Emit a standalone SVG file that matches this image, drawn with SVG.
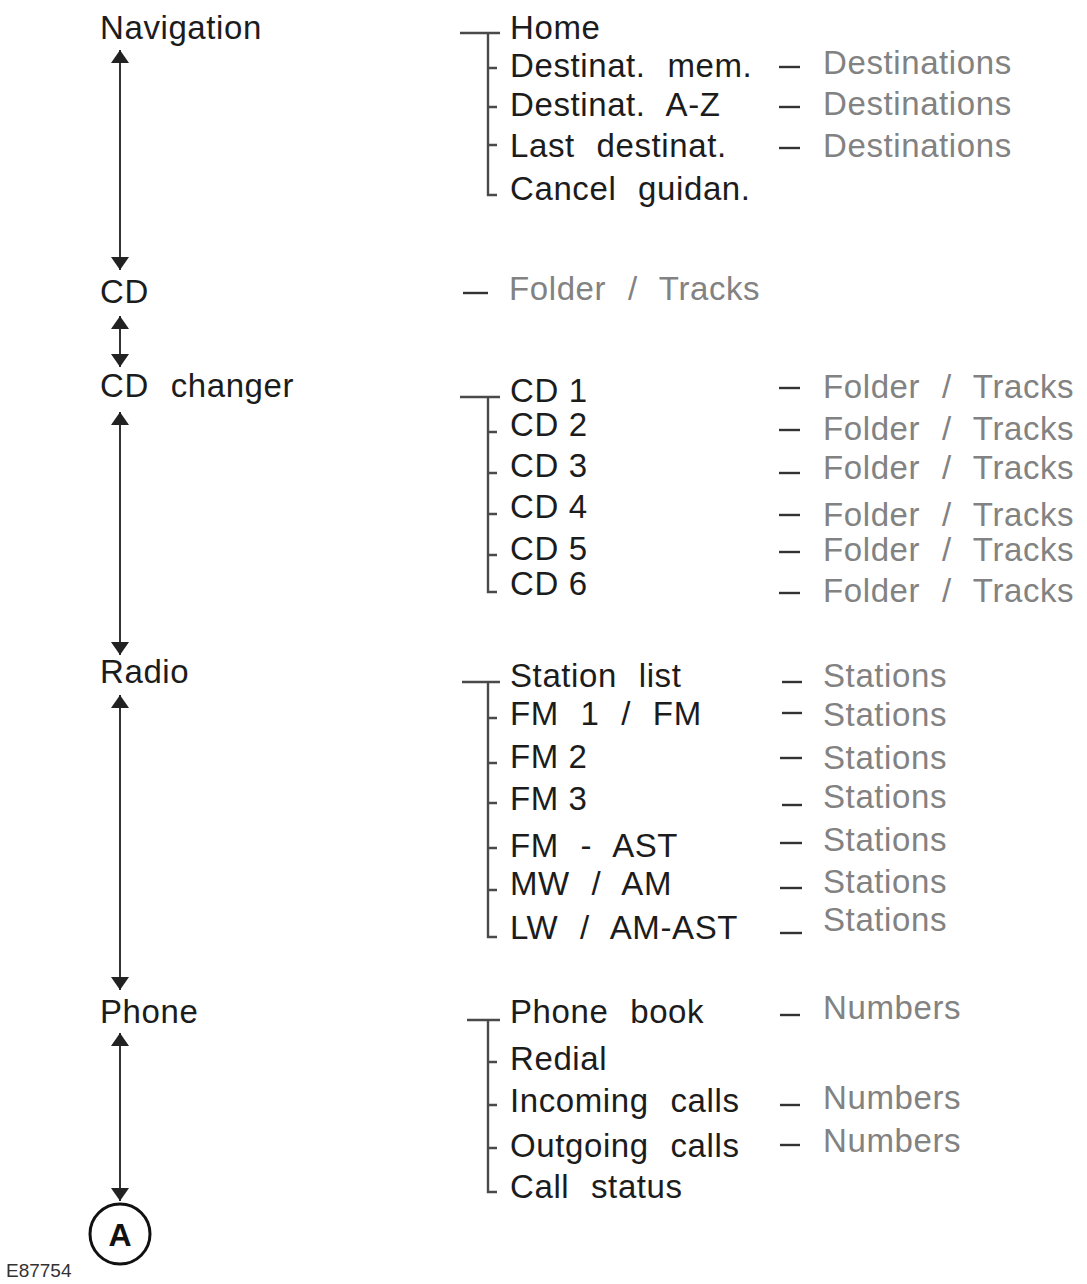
<svg xmlns="http://www.w3.org/2000/svg" width="1087" height="1284" viewBox="0 0 1087 1284">
<style>
text{font-family:"Liberation Sans",Arial,sans-serif;font-size:33px;letter-spacing:0.6px;word-spacing:12px}
.k{fill:#1c1c1c}
.g{fill:#828282}
.t{stroke:#4a4a4a;stroke-width:2.4;fill:none}
.d{stroke:#333;stroke-width:2.4}
.a{stroke:#333;stroke-width:2;fill:none;marker-start:url(#ah);marker-end:url(#ah)}
</style>
<defs>
<marker id="ah" viewBox="0 0 13 18" refX="13" refY="9" markerWidth="13" markerHeight="18" markerUnits="userSpaceOnUse" orient="auto-start-reverse">
<path d="M0,0 L13,9 L0,18 z" fill="#222"/>
</marker>
</defs>
<rect width="1087" height="1284" fill="#fff"/>

<g id="connectors">
<line class="a" x1="120" y1="50" x2="120" y2="270"/>
<line class="a" x1="120" y1="316" x2="120" y2="367"/>
<line class="a" x1="120" y1="412" x2="120" y2="655"/>
<line class="a" x1="120" y1="695" x2="120" y2="990"/>
<line class="a" x1="120" y1="1033" x2="120" y2="1201"/>
</g>

<g id="navigation">
<text class="k" x="100" y="39">Navigation</text>
<path class="t" d="M460,33 H500 M488,33 V195 H497 M488,68 H497 M488,107 H497 M488,145 H497"/>
<text class="k" x="510" y="39">Home</text>
<text class="k" x="510" y="77">Destinat. mem.</text>
<text class="k" x="510" y="116">Destinat. A-Z</text>
<text class="k" x="510" y="157">Last destinat.</text>
<text class="k" x="510" y="200">Cancel guidan.</text>
<line class="d" x1="779" y1="67" x2="800" y2="67"/>
<line class="d" x1="779" y1="107" x2="800" y2="107"/>
<line class="d" x1="779" y1="148" x2="800" y2="148"/>
<text class="g" x="823" y="74">Destinations</text>
<text class="g" x="823" y="115">Destinations</text>
<text class="g" x="823" y="157">Destinations</text>
</g>

<g id="cd">
<text class="k" x="100" y="303">CD</text>
<line class="d" x1="463" y1="293" x2="488" y2="293"/>
<text class="g" x="509" y="300">Folder / Tracks</text>
</g>

<g id="cd-changer">
<text class="k" x="100" y="397">CD changer</text>
<path class="t" d="M460,397 H500 M488,397 V592 H497 M488,432 H497 M488,473 H497 M488,514 H497 M488,555 H497"/>
<text class="k" x="510" y="402" style="word-spacing:0">CD 1</text>
<text class="k" x="510" y="436" style="word-spacing:0">CD 2</text>
<text class="k" x="510" y="477" style="word-spacing:0">CD 3</text>
<text class="k" x="510" y="518" style="word-spacing:0">CD 4</text>
<text class="k" x="510" y="560" style="word-spacing:0">CD 5</text>
<text class="k" x="510" y="595" style="word-spacing:0">CD 6</text>
<line class="d" x1="779" y1="388" x2="800" y2="388"/>
<line class="d" x1="779" y1="430" x2="800" y2="430"/>
<line class="d" x1="779" y1="473" x2="800" y2="473"/>
<line class="d" x1="779" y1="515" x2="800" y2="515"/>
<line class="d" x1="779" y1="552" x2="800" y2="552"/>
<line class="d" x1="779" y1="593" x2="800" y2="593"/>
<text class="g" x="823" y="398">Folder / Tracks</text>
<text class="g" x="823" y="440">Folder / Tracks</text>
<text class="g" x="823" y="479">Folder / Tracks</text>
<text class="g" x="823" y="526">Folder / Tracks</text>
<text class="g" x="823" y="561">Folder / Tracks</text>
<text class="g" x="823" y="602">Folder / Tracks</text>
</g>

<g id="radio">
<text class="k" x="100" y="683">Radio</text>
<path class="t" d="M462,682 H500 M488,682 V937 H497 M488,718 H497 M488,763 H497 M488,803 H497 M488,848 H497 M488,890 H497"/>
<text class="k" x="510" y="687">Station list</text>
<text class="k" x="510" y="725">FM 1 / FM</text>
<text class="k" x="510" y="768" style="word-spacing:0">FM 2</text>
<text class="k" x="510" y="810" style="word-spacing:0">FM 3</text>
<text class="k" x="510" y="857">FM - AST</text>
<text class="k" x="510" y="895">MW / AM</text>
<text class="k" x="510" y="939">LW / AM-AST</text>
<line class="d" x1="782" y1="682" x2="802" y2="682"/>
<line class="d" x1="782" y1="713" x2="802" y2="713"/>
<line class="d" x1="780" y1="758" x2="802" y2="758"/>
<line class="d" x1="782" y1="805" x2="802" y2="805"/>
<line class="d" x1="780" y1="843" x2="802" y2="843"/>
<line class="d" x1="780" y1="888" x2="802" y2="888"/>
<line class="d" x1="780" y1="933" x2="802" y2="933"/>
<text class="g" x="823" y="687">Stations</text>
<text class="g" x="823" y="726">Stations</text>
<text class="g" x="823" y="769">Stations</text>
<text class="g" x="823" y="808">Stations</text>
<text class="g" x="823" y="851">Stations</text>
<text class="g" x="823" y="893">Stations</text>
<text class="g" x="823" y="931">Stations</text>
</g>

<g id="phone">
<text class="k" x="100" y="1023">Phone</text>
<path class="t" d="M467,1020 H500 M488,1020 V1192 H497 M488,1062 H497 M488,1105 H497 M488,1148 H497"/>
<text class="k" x="510" y="1023">Phone book</text>
<text class="k" x="510" y="1070">Redial</text>
<text class="k" x="510" y="1112">Incoming calls</text>
<text class="k" x="510" y="1157">Outgoing calls</text>
<text class="k" x="510" y="1198">Call status</text>
<line class="d" x1="780" y1="1015" x2="800" y2="1015"/>
<line class="d" x1="780" y1="1105" x2="800" y2="1105"/>
<line class="d" x1="780" y1="1145" x2="800" y2="1145"/>
<text class="g" x="823" y="1019">Numbers</text>
<text class="g" x="823" y="1109">Numbers</text>
<text class="g" x="823" y="1152">Numbers</text>
</g>

<g id="connector-a">
<circle cx="120" cy="1234" r="30" fill="#fff" stroke="#111" stroke-width="3"/>
<text x="120" y="1246" text-anchor="middle" style="font-size:32px;font-weight:bold;letter-spacing:0" fill="#111">A</text>
</g>

<text x="6" y="1277" style="font-size:19px;letter-spacing:0;word-spacing:0" fill="#333">E87754</text>
</svg>
